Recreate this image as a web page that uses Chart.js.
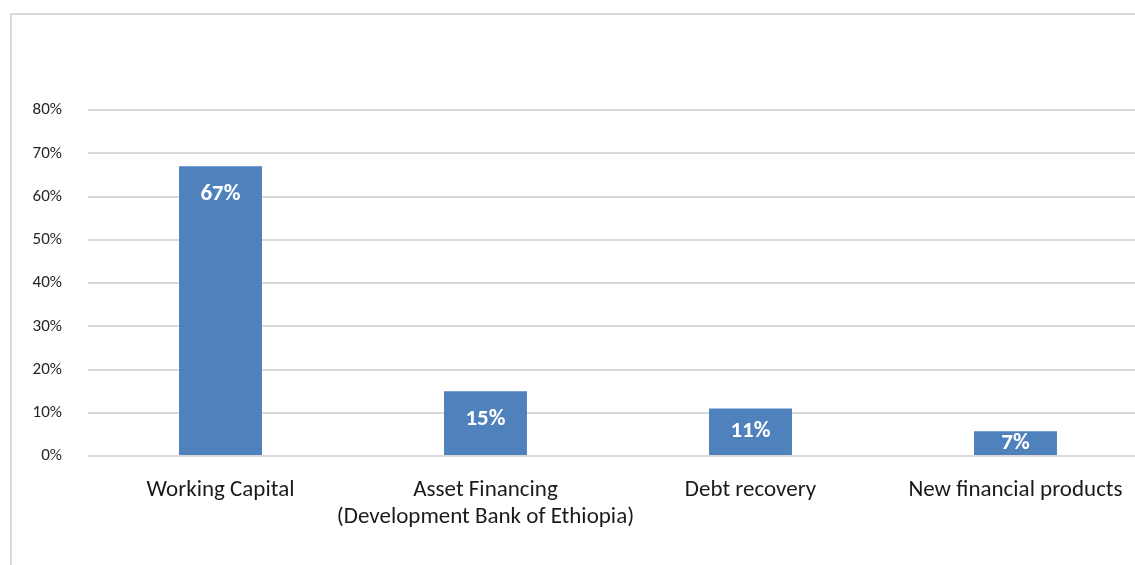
<!DOCTYPE html>
<html>
<head>
<meta charset="utf-8">
<script src="https://cdn.jsdelivr.net/npm/chart.js@4"></script>
<style>
  html, body { margin: 0; padding: 0; background: #fff; overflow: hidden; }
  #frame { position: absolute; left: 10px; top: 13px; width: 1200px; height: 600px;
           border-left: 2px solid #d9d9d9; border-top: 2px solid #d9d9d9; }
  #wrap { position: absolute; left: 0; top: 0; width: 1165px; height: 565px; }
</style>
</head>
<body>
<div id="frame"></div>
<div id="wrap"><canvas id="chart"></canvas></div>
<script>
// data
var categories = [
    ['Working Capital'],
    ['Asset Financing', '(Development Bank of Ethiopia)'],
    ['Debt recovery'],
    ['New financial products']
];
var shares = [67, 15, 11, 5.7];
var shareLabels = ['67%', '15%', '11%', '7%'];
var yTicks = [0, 10, 20, 30, 40, 50, 60, 70, 80];

var fontName = 'Carlito, Lato, "Open Sans", sans-serif';

// labels inside the bar tops, like Excel "inside end"
var insideLabels = {
    id: 'insideLabels',
    afterDatasetsDraw: function (c) {
        var ctx = c.ctx;
        var meta = c.getDatasetMeta(0);
        ctx.save();
        ctx.fillStyle = '#ffffff';
        ctx.font = 'bold 23px ' + fontName;
        ctx.textAlign = 'center';
        ctx.textBaseline = 'middle';
        meta.data.forEach(function (bar, i) {
            var top = bar.y, bottom = bar.base;
            var y = Math.min(top + 28, (top + bottom) / 2);
            ctx.fillText(shareLabels[i], bar.x, y);
        });
        ctx.restore();
    }
};

let chart = document.getElementById('chart').getContext('2d');

let barChart = new Chart(chart, {
    type: 'bar',
    data: {
        labels: categories,
        datasets: [{
            data: shares,
            backgroundColor: '#4f81bd',
            barPercentage: 0.313,
            categoryPercentage: 1
        }]
    },
    plugins: [insideLabels],
    options: {
        responsive: true,
        maintainAspectRatio: false,
        animation: false,
        layout: { padding: { top: 110, right: 17, left: 0, bottom: 0 } },
        plugins: {
            legend: { display: false },
            tooltip: { enabled: false }
        },
        scales: {
            x: {
                grid: { display: false, drawTicks: false },
                border: { display: false },
                ticks: {
                    color: '#1a1a1a',
                    padding: 21,
                    maxRotation: 0,
                    autoSkip: false,
                    font: { family: fontName, size: 23, lineHeight: 1.17 }
                },
                afterFit: function (scale) { scale.height = 109; }
            },
            y: {
                min: 0,
                max: 80,
                afterBuildTicks: function (scale) {
                    scale.ticks = yTicks.map(function (v) { return { value: v }; });
                },
                grid: { color: '#d9d9d9', lineWidth: 2, drawTicks: false },
                border: { display: false },
                ticks: {
                    color: '#262626',
                    padding: 26,
                    font: { family: fontName, size: 17 },
                    callback: function (v) { return v + '%'; }
                },
                afterFit: function (scale) { scale.width = 88; }
            }
        }
    }
});
</script>
</body>
</html>
